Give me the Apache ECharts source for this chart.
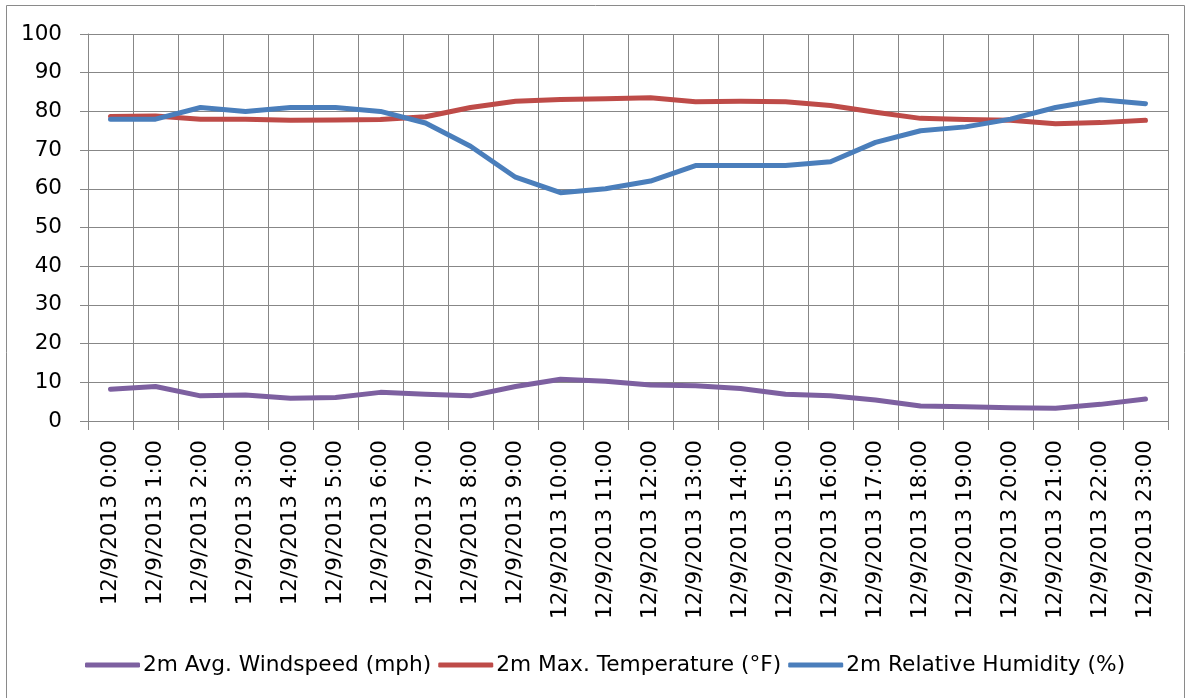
<!DOCTYPE html>
<html>
<head>
<meta charset="utf-8">
<script src="https://cdn.jsdelivr.net/npm/echarts@6/dist/echarts.min.js"></script>
<style>
  html, body { margin: 0; padding: 0; background: #fff; }
  #chart { width: 1190px; height: 698px; }
</style>
</head>
<body>
<div id="chart"></div>
<script>
// Hourly observations for 12/9/2013
const hours = [
  '12/9/2013 0:00', '12/9/2013 1:00', '12/9/2013 2:00', '12/9/2013 3:00',
  '12/9/2013 4:00', '12/9/2013 5:00', '12/9/2013 6:00', '12/9/2013 7:00',
  '12/9/2013 8:00', '12/9/2013 9:00', '12/9/2013 10:00', '12/9/2013 11:00',
  '12/9/2013 12:00', '12/9/2013 13:00', '12/9/2013 14:00', '12/9/2013 15:00',
  '12/9/2013 16:00', '12/9/2013 17:00', '12/9/2013 18:00', '12/9/2013 19:00',
  '12/9/2013 20:00', '12/9/2013 21:00', '12/9/2013 22:00', '12/9/2013 23:00'
];
const windspeed = [8.2, 8.9, 6.5, 6.7, 5.9, 6.1, 7.4, 6.9, 6.5, 8.9, 10.8, 10.3,
  9.3, 9.1, 8.4, 6.9, 6.5, 5.4, 3.9, 3.7, 3.4, 3.3, 4.3, 5.7];
const maxTemp = [78.7, 78.8, 78.0, 78.0, 77.7, 77.8, 77.9, 78.6, 81.0, 82.6, 83.1, 83.3,
  83.5, 82.5, 82.6, 82.5, 81.5, 79.8, 78.2, 77.9, 77.7, 76.8, 77.1, 77.7];
const humidity = [78, 78, 81, 80, 81, 81, 80, 77, 71, 63, 59, 60,
  62, 66, 66, 66, 67, 72, 75, 76, 78, 81, 83, 82];
const seriesNames = ['2m Avg. Windspeed (mph)', '2m Max. Temperature (°F)', '2m Relative Humidity (%)'];
const colors = ['#7D60A0', '#BE4B48', '#4A7EBB'];

const FONT = 'DejaVu Sans';
const gridColor = '#878787';

const chart = echarts.init(document.getElementById('chart'), null, { renderer: 'canvas' });

function lineSeries(name, data, color) {
  return {
    name: name,
    type: 'line',
    data: data,
    symbol: 'none',
    color: color,
    lineStyle: { width: 5, color: color, cap: 'round', join: 'round' },
    itemStyle: { color: color },
    emphasis: { disabled: true },
    animation: false
  };
}

chart.setOption({
  animation: false,
  backgroundColor: '#ffffff',
  color: colors,
  graphic: [{
    type: 'rect',
    shape: { x: 6.5, y: 5.5, width: 1178, height: 720 },
    style: { fill: 'none', stroke: '#8a8a8a', lineWidth: 1 },
    silent: true
  }],
  grid: { left: 88, top: 34, width: 1080, height: 387, containLabel: false },
  legend: {
    left: 80,
    top: 649,
    itemWidth: 55,
    itemHeight: 5,
    itemGap: 7,
    icon: 'roundRect',
    textStyle: { fontFamily: FONT, fontSize: 21.7, color: '#000', padding: [0, 0, 0, -2] },
    data: seriesNames
  },
  xAxis: {
    type: 'category',
    data: hours,
    boundaryGap: true,
    axisLine: { show: true, lineStyle: { color: gridColor, width: 1 } },
    axisTick: { show: true, length: 9, interval: 0, lineStyle: { color: gridColor } },
    splitLine: { show: true, interval: 0, lineStyle: { color: gridColor, width: 1 } },
    axisLabel: {
      interval: 0,
      rotate: 90,
      margin: 19,
      fontFamily: FONT,
      fontSize: 21.5,
      color: '#000'
    }
  },
  yAxis: {
    type: 'value',
    min: 0,
    max: 100,
    interval: 10,
    axisLine: { show: true, lineStyle: { color: gridColor, width: 1 } },
    axisTick: { show: true, length: 8, lineStyle: { color: gridColor } },
    splitLine: { show: true, lineStyle: { color: gridColor, width: 1 } },
    axisLabel: { margin: 26, fontFamily: FONT, fontSize: 21.5, color: '#000' }
  },
  series: [
    lineSeries(seriesNames[0], windspeed, colors[0]),
    lineSeries(seriesNames[1], maxTemp, colors[1]),
    lineSeries(seriesNames[2], humidity, colors[2])
  ]
});
</script>
</body>
</html>
